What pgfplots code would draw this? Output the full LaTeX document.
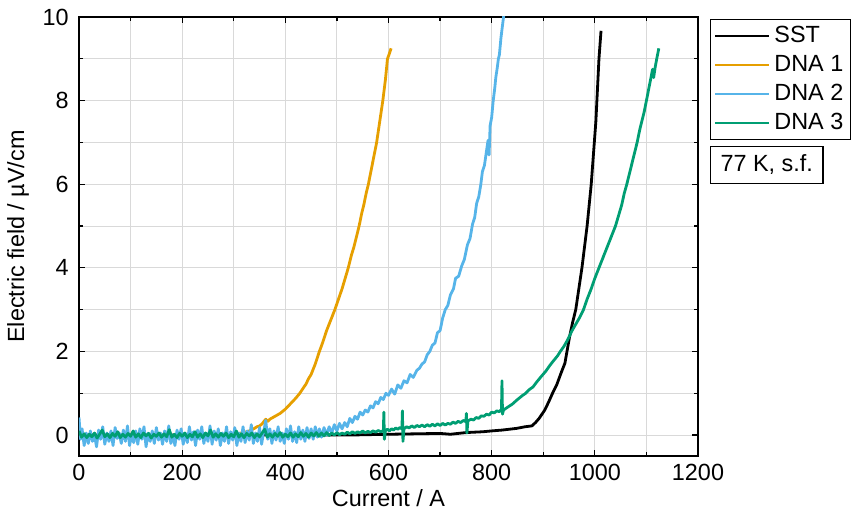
\documentclass[border=0pt]{standalone}
\usepackage{pgfplots}
\pgfplotsset{compat=1.18}
\usepackage{fontspec}
\setmainfont{Liberation Sans}
\definecolor{cSST}{RGB}{0,0,0}
\definecolor{cDA}{RGB}{230,159,0}
\definecolor{cDB}{RGB}{86,180,233}
\definecolor{cDC}{RGB}{0,158,115}
\definecolor{gridc}{RGB}{217,217,217}
\newcommand{\fs}{\fontsize{11.7}{14}\selectfont}

\begin{document}
\begin{tikzpicture}[font=\fs]
\path[use as bounding box] (-39.5pt,-29pt) rectangle (386pt,228pt);
\begin{axis}[
  at={(0pt,0pt)}, anchor=south west,
  scale only axis,
  width=309.5pt, height=219.5pt,
  xmin=0, xmax=1200, ymin=-0.5, ymax=10,
  xtick={0,200,...,1200}, minor xtick={100,300,...,1100},
  ytick={0,2,...,10}, minor ytick={1,3,...,9},
  tick pos=both, tick align=inside,
  major tick length=3pt, minor tick length=2pt,
  every tick/.style={black, line width=0.6pt},
  axis line style={line width=0.6pt},
  grid=both,
  major grid style={gridc, line width=0.5pt},
  minor grid style={gridc, line width=0.5pt},
  /pgf/number format/assume math mode=true,
  /pgf/number format/1000 sep={},
  tick label style={font=\fs},
  yticklabel style={xshift=-1.6pt},
  xticklabel style={yshift=-0.6pt},
  xlabel={Current / A},
  ylabel={Electric field / µV/cm},
  every axis x label/.style={at={(rel axis cs:0.5,0)}, yshift=-21pt, anchor=center, font=\fs},
  every axis y label/.style={at={(rel axis cs:0,0.5)}, xshift=-30.5pt, rotate=90, anchor=center, font=\fs},
  legend style={at={(rel axis cs:1,1)}, anchor=north west, xshift=6pt, yshift=-1pt,
    draw=black, line width=0.6pt, font=\fs, row sep=0pt,
    inner xsep=1.5pt, inner ysep=1pt,
    nodes={text height=8.5pt, text depth=2pt, inner sep=2pt},
    cells={anchor=west}},
  legend image code/.code={\draw[#1] (0pt,0pt) -- (27pt,0pt);},
  clip mode=individual,
  every axis plot/.append style={line width=1.4pt, line join=round},
]
\addplot[cSST] coordinates {(0,0)(100,0)(200,0)(300,0)(400,0)(500,0)(520,0.0)(560,0.01)(600,0.02)(650,0.03)(700,0.04)(720,0.02)(750,0.06)(783,0.08)(800,0.1)(820,0.12)(848,0.16)(865,0.2)(878,0.22)(885,0.3)(892,0.4)(903,0.6)(910,0.78)(918,1.0)(926,1.2)(935,1.5)(942,1.72)(946,2.0)(951,2.35)(957,2.7)(963,3.0)(969,3.5)(975,4.0)(980,4.5)(985,5.0)(989,5.5)(993,6.0)(996,6.5)(999,7.0)(1002,7.5)(1004,8.0)(1006,8.5)(1008,9.0)(1012,9.67)};
\addlegendentry{SST}
\addplot[cDA] coordinates {(280,0)(290,0.0)(300,0.02)(310,0.04)(320,0.06)(330,0.1)(340,0.16)(345,0.2)(350,0.22)(355,0.27)(362,0.38)(366,0.33)(370,0.38)(380,0.45)(390,0.52)(400,0.62)(410,0.75)(420,0.88)(428,1.0)(435,1.13)(440,1.22)(445,1.35)(450,1.45)(458,1.7)(466,2.0)(472,2.2)(480,2.5)(488,2.75)(496,3.0)(503,3.25)(510,3.5)(516,3.75)(522,4.0)(528,4.3)(533,4.5)(538,4.75)(543,5.0)(548,5.3)(552,5.5)(557,5.8)(561,6.0)(565,6.25)(569,6.5)(573,6.75)(577,7.0)(580,7.25)(583,7.5)(586,7.75)(589,8.0)(592,8.3)(594,8.5)(596,8.75)(598,9.0)(601,9.1)(605,9.25)};
\addlegendentry{DNA 1}
\addplot[cDB] coordinates {(0,0.42)(3,-0.1)(6,0.15)(10,-0.25)(14,0.05)(18,-0.2)(22,0.1)(26,-0.15)(30,0.0)(34,-0.28)(38,0.12)(42,-0.1)(46,0.2)(50,-0.22)(54,0.05)(58,-0.15)(62,0.1)(66,-0.25)(70,0.18)(74,-0.08)(78,0.05)(82,-0.2)(86,0.12)(90,-0.15)(94,0.22)(98,-0.25)(102,0.0)(106,-0.18)(110,0.1)(114,-0.22)(118,0.15)(122,-0.1)(126,0.2)(130,-0.28)(134,0.05)(138,-0.15)(142,0.1)(146,-0.2)(150,0.18)(154,-0.12)(158,0.05)(162,-0.22)(166,0.1)(170,-0.15)(174,0.22)(178,-0.2)(182,0.0)(186,-0.25)(190,0.12)(194,-0.1)(198,0.15)(202,-0.22)(206,0.05)(210,-0.18)(214,0.2)(218,-0.12)(222,0.08)(226,-0.25)(230,0.12)(234,-0.1)(238,0.2)(242,-0.2)(246,0.05)(250,-0.15)(254,0.22)(258,-0.22)(262,0.1)(266,-0.12)(270,0.15)(274,-0.25)(278,0.05)(282,-0.15)(286,0.2)(290,-0.2)(294,0.08)(298,-0.12)(302,0.18)(306,-0.25)(310,0.05)(314,-0.15)(318,0.2)(322,-0.18)(326,0.1)(330,-0.12)(334,0.25)(338,-0.2)(342,0.05)(346,-0.15)(350,0.18)(354,-0.22)(358,0.08)(362,0.35)(366,-0.1)(370,0.15)(374,-0.2)(378,0.1)(382,-0.12)(386,0.2)(390,-0.15)(394,0.05)(398,-0.2)(402,0.15)(406,-0.1)(410,0.22)(414,-0.15)(418,0.08)(422,-0.18)(426,0.2)(430,-0.1)(434,0.12)(438,-0.15)(442,0.18)(446,-0.08)(450,0.15)(454,-0.1)(458,0.2)(462,-0.05)(466,0.15)(470,-0.05)(475,0.18)(480,0.0)(485,0.2)(490,0.05)(495,0.25)(500,0.1)(505,0.28)(510,0.15)(515,0.3)(520,0.2)(525,0.4)(530,0.3)(535,0.45)(540,0.38)(545,0.55)(550,0.48)(555,0.6)(560,0.55)(565,0.7)(570,0.65)(575,0.8)(580,0.75)(585,0.9)(590,0.85)(595,1.0)(600,0.95)(606,1.1)(612,0.98)(618,1.2)(624,1.12)(630,1.3)(636,1.25)(642,1.45)(648,1.38)(655,1.55)(660,1.6)(665,1.7)(670,1.75)(675,1.92)(680,2.0)(685,2.15)(690,2.2)(695,2.45)(700,2.5)(705,2.8)(710,3.0)(715,3.1)(720,3.35)(726,3.5)(730,3.75)(736,3.8)(742,4.05)(747,4.2)(753,4.55)(758,4.7)(763,5.05)(767,5.2)(771,5.55)(775,5.7)(779,6.0)(782,6.3)(786,6.45)(790,6.8)(793,7.05)(795,6.7)(797,7.4)(800,7.6)(803,8.0)(806,8.3)(808,8.55)(811,8.8)(813,9.0)(815,9.1)(818,9.5)(821,9.8)(824,10.1)};
\addlegendentry{DNA 2}
\addplot[cDC] coordinates {(0,0.1)(5,-0.05)(10,0.03)(15,-0.06)(20,0.02)(25,-0.04)(30,0.05)(35,-0.07)(40,0.02)(45,0.12)(50,-0.04)(55,0.03)(60,-0.06)(65,0.04)(70,-0.03)(75,0.08)(80,-0.06)(85,0.02)(90,-0.05)(95,0.04)(100,-0.03)(105,0.1)(110,-0.05)(115,0.03)(120,-0.06)(125,0.05)(130,-0.02)(135,0.04)(140,-0.07)(145,0.02)(150,-0.03)(155,0.05)(160,-0.05)(165,0.03)(170,-0.04)(175,0.13)(180,-0.05)(185,0.02)(190,-0.06)(195,0.04)(200,-0.03)(205,0.05)(210,-0.06)(215,0.02)(220,-0.04)(225,0.08)(230,-0.05)(235,0.03)(240,-0.06)(245,0.05)(250,-0.02)(255,0.12)(260,-0.05)(265,0.03)(270,-0.05)(275,0.04)(280,-0.03)(285,0.05)(290,-0.06)(295,0.02)(300,-0.04)(305,0.1)(310,-0.05)(315,0.03)(320,-0.06)(325,0.04)(330,-0.02)(335,0.05)(340,-0.06)(345,0.03)(350,-0.04)(355,0.05)(360,0.14)(365,-0.05)(370,0.03)(375,-0.05)(380,0.04)(385,-0.03)(390,0.06)(395,-0.05)(400,0.02)(405,-0.04)(410,0.05)(415,-0.05)(420,0.03)(425,-0.04)(430,0.06)(435,-0.03)(440,0.04)(445,-0.05)(450,0.05)(455,-0.02)(460,0.06)(465,-0.03)(470,0.05)(475,-0.02)(480,0.06)(485,-0.01)(490,0.05)(495,0.0)(500,0.06)(505,0.01)(510,0.05)(515,0.02)(520,0.07)(525,0.03)(530,0.08)(535,0.04)(540,0.08)(545,0.05)(550,0.1)(555,0.05)(560,0.09)(565,0.06)(570,0.1)(575,0.07)(580,0.11)(585,0.08)(590,0.1)(591,0.55)(592,-0.1)(594,0.1)(598,0.14)(602,0.1)(606,0.15)(610,0.12)(614,0.17)(618,0.14)(622,0.18)(626,0.15)(627,0.58)(628,-0.15)(630,0.15)(635,0.2)(640,0.17)(645,0.22)(650,0.18)(655,0.23)(660,0.2)(665,0.24)(670,0.2)(675,0.25)(680,0.21)(685,0.26)(690,0.22)(695,0.27)(700,0.23)(705,0.28)(710,0.24)(715,0.28)(720,0.26)(725,0.31)(730,0.28)(735,0.33)(740,0.3)(745,0.35)(750,0.32)(751,0.52)(752,0.05)(754,0.34)(760,0.38)(765,0.36)(770,0.42)(775,0.4)(780,0.46)(785,0.45)(790,0.5)(795,0.48)(800,0.55)(805,0.53)(810,0.58)(815,0.56)(819,0.62)(820,1.3)(821,0.5)(823,0.6)(830,0.66)(835,0.7)(840,0.74)(849,0.84)(855,0.9)(860,0.95)(866,1.0)(872,1.08)(880,1.15)(888,1.28)(896,1.4)(905,1.53)(913,1.67)(920,1.78)(928,1.9)(933,2.0)(940,2.12)(946,2.25)(951,2.37)(955,2.48)(962,2.63)(970,2.8)(978,3.0)(985,3.25)(993,3.5)(1000,3.75)(1008,4.0)(1016,4.25)(1024,4.5)(1032,4.75)(1040,5.0)(1046,5.25)(1052,5.5)(1057,5.78)(1062,6.0)(1067,6.25)(1072,6.5)(1077,6.75)(1082,7.0)(1087,7.3)(1091,7.5)(1096,7.75)(1100,8.0)(1104,8.25)(1108,8.5)(1112,8.75)(1114,8.55)(1117,8.8)(1120,9.0)(1124,9.25)};
\addlegendentry{DNA 3}
\node[draw=black, line width=0.6pt, anchor=north west, text height=8.5pt, text depth=2.5pt, inner xsep=5pt, inner ysep=3.75pt, font=\fs]
  at ([xshift=6pt, yshift=-64.5pt]rel axis cs:1,1) {77 K, s.f.};
\end{axis}
\end{tikzpicture}
\end{document}
